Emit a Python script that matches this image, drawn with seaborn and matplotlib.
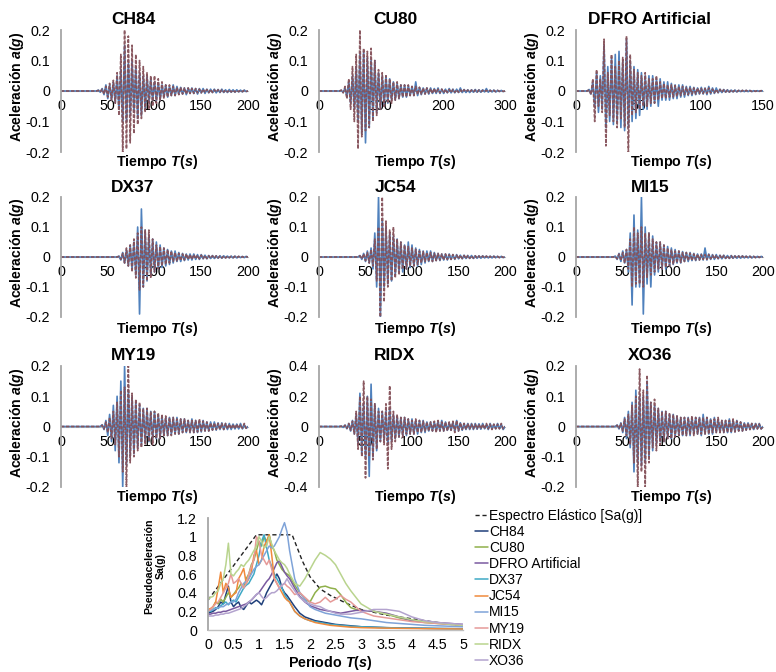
import numpy as np
import pandas as pd
import matplotlib
matplotlib.use("Agg")
import matplotlib.pyplot as plt
import seaborn as sns
from matplotlib.ticker import FuncFormatter

# ---------------- data ----------------
RECORDS = ["CH84", "CU80", "DFRO Artificial", "DX37", "JC54", "MI15", "MY19", "RIDX", "XO36"]
DURATIONS = [200, 300, 150, 200, 200, 200, 200, 200, 200]
X_TICKS = [[0, 50, 100, 150, 200], [0, 100, 200, 300], [0, 50, 100, 150],
           [0, 50, 100, 150, 200], [0, 50, 100, 150, 200], [0, 50, 100, 150, 200],
           [0, 50, 100, 150, 200], [0, 50, 100, 150, 200], [0, 50, 100, 150, 200]]
Y_LIMS = [0.2, 0.2, 0.2, 0.2, 0.2, 0.2, 0.2, 0.4, 0.2]

CH84_A = [0,0,0,0,0,0,0,0,0,0, 0,0,0,0,0,0,0,0,0,0,
          0.003,-0.004,0.008,-0.012,0.02,-0.025,0.02,-0.03,0.03,-0.04,
          0.05,-0.06,0.07,-0.1,0.15,-0.1,0.09,-0.08,0.1,-0.07,
          0.08,-0.09,0.06,-0.08,0.05,-0.06,0.05,-0.04,0.04,-0.03,
          0.03,-0.03,0.025,-0.03,0.02,-0.02,0.02,-0.02,0.015,-0.015,
          0.02,-0.015,0.015,-0.01,0.012,-0.01,0.01,-0.012,0.01,-0.008,
          0.01,-0.008,0.008,-0.01,0.008,-0.006,0.008,-0.008,0.006,-0.006,
          0.006,-0.005,0.006,-0.006,0.005,-0.005,0.006,-0.005,0.004,-0.005,
          0.005,-0.004,0.004,-0.004,0.004,-0.003,0.003,-0.003,0.003,-0.002,0]
CH84_B = [0,0,0,0,0,0,0,0,0,0, 0,0,0,0,0,0,0,0,0,0,
          0.002,-0.003,0.006,-0.01,0.015,-0.02,0.025,-0.03,0.035,-0.04,
          0.06,-0.08,0.12,-0.2,0.2,-0.19,0.18,-0.17,0.15,-0.14,
          0.12,-0.11,0.1,-0.09,0.08,-0.07,0.06,-0.06,0.05,-0.05,
          0.05,-0.04,0.04,-0.03,0.03,-0.025,0.02,-0.02,0.02,-0.015,
          0.015,-0.015,0.012,-0.012,0.012,-0.01,0.01,-0.01,0.01,-0.008,
          0.008,-0.008,0.008,-0.006,0.006,-0.006,0.006,-0.005,0.005,-0.005,
          0.005,-0.005,0.004,-0.004,0.004,-0.004,0.004,-0.003,0.003,-0.003,
          0.003,-0.003,0.003,-0.003,0.002,-0.002,0.002,-0.002,0.002,-0.001,0]

CU80_A = [0,0,0,0,0,0,0,0,0,0,
          0,0,0.002,-0.005,0.01,-0.02,0.03,-0.04,0.05,-0.06,
          0.08,-0.1,0.12,-0.14,0.13,-0.17,0.11,-0.12,0.1,-0.09,
          0.1,-0.07,0.06,-0.06,0.05,-0.05,0.05,-0.04,0.04,-0.03,
          0.03,-0.03,0.025,-0.025,0.02,-0.02,0.02,-0.02,0.018,-0.015,
          0.015,-0.015,0.03,-0.015,0.012,-0.012,0.01,-0.01,0.01,-0.01,
          0.01,-0.008,0.008,-0.008,0.01,-0.008,0.006,-0.008,0.006,-0.006,
          0.008,-0.006,0.006,-0.006,0.006,-0.005,0.01,-0.005,0.005,-0.005,
          0.004,-0.005,0.004,-0.004,0.005,-0.004,0.004,-0.004,0.004,-0.003,
          0.008,-0.004,0.003,-0.003,0.003,-0.003,0.002,-0.002,0.002,-0.002,0]
CU80_B = [0,0,0,0,0,0,0,0,0,0,
          0,0,0.003,-0.006,0.015,-0.025,0.04,-0.06,0.08,-0.1,
          0.12,-0.19,0.2,-0.15,0.14,-0.13,0.13,-0.12,0.14,-0.1,
          0.1,-0.08,0.07,-0.06,0.06,-0.05,0.05,-0.04,0.04,-0.04,
          0.03,-0.03,0.03,-0.025,0.02,-0.02,0.02,-0.02,0.02,-0.015,
          0.015,-0.015,0.015,-0.012,0.012,-0.01,0.01,-0.01,0.01,-0.008,
          0.008,-0.008,0.008,-0.006,0.006,-0.006,0.006,-0.006,0.005,-0.005,
          0.005,-0.005,0.005,-0.004,0.004,-0.004,0.004,-0.004,0.004,-0.003,
          0.003,-0.003,0.003,-0.003,0.003,-0.003,0.003,-0.002,0.002,-0.002,
          0.002,-0.002,0.002,-0.002,0.002,-0.002,0.002,-0.001,0.001,-0.001,0]

DFRO_A = [0,0,0,0,0,0,0,0.005,-0.01,0.03,
          -0.05,0.06,-0.07,0.05,-0.06,0.15,-0.12,0.08,-0.1,0.11,
          -0.11,0.12,-0.1,0.13,-0.12,0.1,-0.13,0.17,-0.12,0.1,
          -0.1,0.08,-0.09,0.07,-0.08,0.06,-0.06,0.05,-0.06,0.05,
          -0.05,0.05,-0.04,0.04,-0.05,0.04,-0.03,0.03,-0.03,0.03,
          -0.03,0.025,-0.025,0.02,-0.025,0.02,-0.02,0.02,-0.02,0.015,
          -0.015,0.015,-0.015,0.012,-0.012,0.01,-0.01,0.012,-0.01,0.01,
          -0.012,0.015,-0.01,0.01,-0.008,0.01,-0.006,0.006,-0.005,0.005,
          -0.004,0.004,-0.004,0.003,-0.003,0.003,-0.003,0.002,-0.002,0.002,
          -0.002,0.002,-0.002,0.002,-0.002,0.001,-0.001,0.001,-0.001,0.001,0]
DFRO_B = [0,0,0,0,0,0,0,0.004,-0.012,0.04,
          -0.1,0.07,-0.05,0.04,-0.07,0.17,-0.18,0.06,-0.08,0.12,
          -0.1,0.08,-0.12,0.1,-0.09,0.11,-0.12,0.18,-0.2,0.12,
          -0.08,0.07,-0.07,0.06,-0.06,0.05,-0.05,0.06,-0.05,0.04,
          -0.04,0.04,-0.04,0.05,-0.03,0.03,-0.025,0.025,-0.025,0.02,
          -0.02,0.02,-0.02,0.018,-0.018,0.015,-0.015,0.015,-0.012,0.012,
          -0.012,0.012,-0.01,0.01,-0.01,0.01,-0.008,0.008,-0.008,0.008,
          -0.008,0.01,-0.006,0.006,-0.006,0.005,-0.005,0.005,-0.004,0.004,
          -0.003,0.003,-0.003,0.003,-0.002,0.002,-0.002,0.002,-0.002,0.002,
          -0.002,0.002,-0.001,0.001,-0.001,0.001,-0.001,0.001,-0.001,0.001,0]

DX37_A = [0,0,0,0,0,0,0,0,0,0, 0,0,0,0,0,0,0,0,0,0, 0,0,0,0,0,0,0,0,0,0,
          0,0.003,-0.01,0.015,-0.02,0.025,-0.03,0.04,-0.04,0.05,
          -0.06,0.1,-0.19,0.16,-0.1,0.09,-0.08,0.07,-0.06,0.06,
          -0.05,0.05,-0.04,0.04,-0.035,0.03,-0.03,0.025,-0.025,0.02,
          -0.02,0.02,-0.015,0.015,-0.015,0.012,-0.012,0.01,-0.01,0.01,
          -0.01,0.01,-0.008,0.008,-0.008,0.008,-0.006,0.006,-0.006,0.005,
          -0.005,0.005,-0.005,0.004,-0.004,0.004,-0.004,0.004,-0.003,0.003,
          -0.003,0.003,-0.003,0.003,-0.003,0.002,-0.002,0.002,-0.002,0.002,0]
DX37_B = [0,0,0,0,0,0,0,0,0,0, 0,0,0,0,0,0,0,0,0,0, 0,0,0,0,0,0,0,0,0,0,
          0,0.002,-0.008,0.012,-0.02,0.03,-0.03,0.04,-0.05,0.06,
          -0.07,0.08,-0.11,0.1,-0.1,0.09,-0.08,0.09,-0.07,0.06,
          -0.05,0.04,-0.04,0.035,-0.03,0.03,-0.025,0.025,-0.02,0.02,
          -0.015,0.015,-0.015,0.012,-0.012,0.01,-0.01,0.01,-0.008,0.008,
          -0.008,0.008,-0.006,0.006,-0.006,0.006,-0.005,0.005,-0.005,0.004,
          -0.004,0.004,-0.004,0.004,-0.003,0.003,-0.003,0.003,-0.003,0.003,
          -0.002,0.002,-0.002,0.002,-0.002,0.002,-0.002,0.001,-0.001,0.001,0]

JC54_A = [0,0,0,0,0,0,0,0,0,0, 0,0,0,0,0,0,0,0,0,0,
          0,0,0.005,-0.008,0.012,-0.015,0.02,-0.02,0.03,-0.04,
          0.08,-0.1,0.2,-0.2,0.12,-0.1,0.1,-0.09,0.08,-0.08,
          0.07,-0.06,0.06,-0.05,0.05,-0.05,0.04,-0.04,0.05,-0.035,
          0.04,-0.03,0.03,-0.03,0.025,-0.025,0.02,-0.02,0.02,-0.015,
          0.02,-0.015,0.015,-0.012,0.012,-0.012,0.01,-0.01,0.01,-0.01,
          0.01,-0.008,0.008,-0.008,0.008,-0.006,0.006,-0.006,0.006,-0.005,
          0.005,-0.005,0.005,-0.005,0.004,-0.004,0.004,-0.004,0.004,-0.003,
          0.003,-0.003,0.003,-0.003,0.003,-0.002,0.002,-0.002,0.002,-0.002,0]
JC54_B = [0,0,0,0,0,0,0,0,0,0, 0,0,0,0,0,0,0,0,0,0,
          0,0,0.004,-0.006,0.01,-0.012,0.015,-0.02,0.025,-0.03,
          0.06,-0.08,0.1,-0.2,0.2,-0.15,0.12,-0.1,0.09,-0.08,
          0.1,-0.07,0.06,-0.06,0.05,-0.04,0.04,-0.04,0.035,-0.03,
          0.03,-0.03,0.025,-0.025,0.02,-0.02,0.018,-0.015,0.015,-0.015,
          0.015,-0.015,0.012,-0.012,0.012,-0.01,0.01,-0.01,0.01,-0.008,
          0.008,-0.008,0.008,-0.006,0.006,-0.006,0.006,-0.005,0.005,-0.005,
          0.005,-0.004,0.004,-0.004,0.004,-0.004,0.003,-0.003,0.003,-0.003,
          0.003,-0.003,0.002,-0.002,0.002,-0.002,0.002,-0.002,0.002,-0.001,0]

MI15_A = [0,0,0,0,0,0,0,0,0,0, 0,0,0,0,0,0,0,0,0,0,
          0,0.003,-0.008,0.012,-0.015,0.02,-0.02,0.025,-0.05,0.08,
          -0.16,0.14,-0.1,0.09,-0.1,0.2,-0.19,0.1,-0.09,0.08,
          -0.1,0.07,-0.06,0.05,-0.05,0.05,-0.04,0.04,-0.04,0.035,
          -0.03,0.03,-0.025,0.025,-0.02,0.02,-0.02,0.018,-0.015,0.015,
          -0.015,0.015,-0.012,0.012,-0.012,0.01,-0.01,0.01,-0.01,0.03,
          -0.01,0.01,-0.008,0.008,-0.008,0.008,-0.006,0.006,-0.006,0.006,
          -0.005,0.005,-0.005,0.005,-0.004,0.004,-0.004,0.004,-0.004,0.004,
          -0.003,0.003,-0.003,0.003,-0.003,0.002,-0.002,0.002,-0.002,0.002,0]
MI15_B = [0,0,0,0,0,0,0,0,0,0, 0,0,0,0,0,0,0,0,0,0,
          0,0.002,-0.006,0.01,-0.012,0.015,-0.02,0.025,-0.04,0.06,
          -0.1,0.1,-0.09,0.08,-0.09,0.1,-0.1,0.08,-0.07,0.08,
          -0.06,0.06,-0.05,0.05,-0.04,0.05,-0.04,0.04,-0.035,0.03,
          -0.03,0.025,-0.025,0.02,-0.02,0.02,-0.018,0.015,-0.015,0.015,
          -0.012,0.012,-0.012,0.01,-0.01,0.01,-0.01,0.008,-0.008,0.008,
          -0.008,0.008,-0.006,0.006,-0.006,0.006,-0.005,0.005,-0.005,0.005,
          -0.004,0.004,-0.004,0.004,-0.004,0.003,-0.003,0.003,-0.003,0.003,
          -0.003,0.002,-0.002,0.002,-0.002,0.002,-0.002,0.002,-0.001,0.001,0]

MY19_A = [0,0,0,0,0,0,0,0,0,0, 0,0,0,0,0,0,0,0,0,0,
          0,0,0.006,-0.01,0.02,-0.03,0.04,-0.05,0.07,-0.08,
          0.1,-0.12,0.15,-0.2,0.2,-0.13,0.12,-0.1,0.1,-0.09,
          0.08,-0.07,0.07,-0.06,0.06,-0.05,0.06,-0.05,0.05,-0.04,
          0.05,-0.04,0.04,-0.04,0.035,-0.03,0.03,-0.03,0.03,-0.025,
          0.03,-0.025,0.03,-0.025,0.025,-0.02,0.025,-0.02,0.02,-0.02,
          0.025,-0.02,0.02,-0.02,0.018,-0.018,0.02,-0.015,0.015,-0.015,
          0.015,-0.012,0.015,-0.012,0.012,-0.01,0.012,-0.01,0.01,-0.01,
          0.01,-0.01,0.008,-0.008,0.008,-0.008,0.01,-0.008,0.006,-0.006,0]
MY19_B = [0,0,0,0,0,0,0,0,0,0, 0,0,0,0,0,0,0,0,0,0,
          0,0,0.004,-0.008,0.015,-0.02,0.03,-0.04,0.05,-0.06,
          0.08,-0.1,0.12,-0.15,0.13,-0.2,0.2,-0.12,0.11,-0.1,
          0.09,-0.08,0.08,-0.07,0.06,-0.06,0.06,-0.05,0.05,-0.06,
          0.05,-0.04,0.045,-0.04,0.04,-0.03,0.035,-0.03,0.03,-0.03,
          0.03,-0.025,0.025,-0.025,0.025,-0.02,0.025,-0.02,0.02,-0.02,
          0.02,-0.02,0.02,-0.018,0.025,-0.015,0.018,-0.015,0.015,-0.015,
          0.012,-0.012,0.012,-0.01,0.01,-0.01,0.01,-0.01,0.01,-0.008,
          0.008,-0.008,0.008,-0.008,0.008,-0.006,0.006,-0.006,0.01,-0.006,0]

RIDX_A = [0,0,0,0,0,0,0,0,0,0,
          0,0,0.003,-0.006,0.01,-0.015,0.02,-0.03,0.04,-0.05,
          0.08,-0.12,0.22,-0.18,0.15,-0.2,0.2,-0.33,0.28,-0.2,
          0.15,-0.16,0.12,-0.1,0.1,-0.09,0.1,-0.12,0.12,-0.1,
          0.08,-0.08,0.07,-0.07,0.06,-0.06,0.06,-0.06,0.05,-0.05,
          0.05,-0.05,0.04,-0.05,0.04,-0.04,0.04,-0.04,0.03,-0.03,
          0.03,-0.03,0.03,-0.03,0.035,-0.03,0.04,-0.03,0.03,-0.025,
          0.025,-0.025,0.03,-0.03,0.04,-0.03,0.025,-0.025,0.02,-0.02,
          0.02,-0.02,0.02,-0.02,0.02,-0.018,0.018,-0.018,0.02,-0.015,
          0.015,-0.02,0.02,-0.015,0.015,-0.015,0.02,-0.015,0.015,-0.02,0]
RIDX_B = [0,0,0,0,0,0,0,0,0,0,
          0,0,0.002,-0.005,0.008,-0.012,0.02,-0.025,0.035,-0.05,
          0.1,-0.15,0.2,-0.2,0.3,-0.34,0.2,-0.2,0.18,-0.22,
          0.15,-0.15,0.1,-0.1,0.1,-0.12,0.15,-0.28,0.27,-0.15,
          0.1,-0.1,0.08,-0.07,0.06,-0.07,0.06,-0.05,0.05,-0.05,
          0.04,-0.05,0.05,-0.04,0.04,-0.04,0.035,-0.03,0.03,-0.03,
          0.03,-0.03,0.035,-0.04,0.04,-0.03,0.03,-0.03,0.03,-0.03,
          0.03,-0.025,0.035,-0.04,0.04,-0.03,0.025,-0.02,0.02,-0.02,
          0.02,-0.015,0.015,-0.015,0.015,-0.015,0.015,-0.015,0.015,-0.015,
          0.02,-0.015,0.015,-0.02,0.015,-0.015,0.015,-0.015,0.02,-0.015,0]

XO36_A = [0,0,0,0,0,0,0,0,0,0, 0,0,0,0,0,0,0,0,0,0,
          0,0,0.005,-0.008,0.012,-0.02,0.03,-0.04,0.05,-0.07,
          0.08,-0.15,0.12,-0.12,0.1,-0.13,0.1,-0.12,0.15,-0.1,
          0.08,-0.08,0.07,-0.06,0.06,-0.05,0.05,-0.05,0.05,-0.04,
          0.04,-0.04,0.04,-0.035,0.035,-0.03,0.03,-0.03,0.03,-0.03,
          0.03,-0.03,0.03,-0.025,0.03,-0.025,0.03,-0.03,0.04,-0.025,
          0.03,-0.025,0.025,-0.025,0.03,-0.02,0.025,-0.02,0.02,-0.02,
          0.02,-0.02,0.025,-0.02,0.02,-0.018,0.02,-0.015,0.015,-0.015,
          0.012,-0.012,0.012,-0.01,0.01,-0.01,0.01,-0.008,0.01,-0.008,0]
XO36_B = [0,0,0,0,0,0,0,0,0,0, 0,0,0,0,0,0,0,0,0,0,
          0,0,0.004,-0.006,0.01,-0.015,0.025,-0.03,0.04,-0.06,
          0.07,-0.12,0.1,-0.2,0.19,-0.15,0.12,-0.2,0.17,-0.12,
          0.08,-0.07,0.09,-0.08,0.06,-0.06,0.05,-0.05,0.05,-0.04,
          0.045,-0.04,0.04,-0.035,0.035,-0.03,0.03,-0.03,0.03,-0.03,
          0.03,-0.025,0.035,-0.03,0.03,-0.025,0.03,-0.025,0.03,-0.025,
          0.03,-0.025,0.025,-0.02,0.025,-0.02,0.03,-0.02,0.02,-0.02,
          0.02,-0.02,0.02,-0.02,0.025,-0.018,0.018,-0.015,0.015,-0.015,
          0.012,-0.012,0.012,-0.01,0.01,-0.01,0.01,-0.008,0.008,-0.008,0]

SERIES_A = [CH84_A, CU80_A, DFRO_A, DX37_A, JC54_A, MI15_A, MY19_A, RIDX_A, XO36_A]
SERIES_B = [CH84_B, CU80_B, DFRO_B, DX37_B, JC54_B, MI15_B, MY19_B, RIDX_B, XO36_B]

# response spectra
PERIODS = [0, 0.05, 0.1, 0.15, 0.2, 0.25, 0.3, 0.35, 0.4, 0.45,
           0.5, 0.55, 0.6, 0.65, 0.7, 0.75, 0.8, 0.85, 0.9, 0.95,
           1.0, 1.05, 1.1, 1.15, 1.2, 1.25, 1.3, 1.35, 1.4, 1.45,
           1.5, 1.55, 1.6, 1.7, 1.8, 1.9, 2.0, 2.1, 2.2, 2.3,
           2.4, 2.5, 2.6, 2.7, 2.8, 2.9, 3.0, 3.25, 3.5, 3.75,
           4.0, 4.25, 4.5, 4.75, 5.0]
SA_CH84 = [0.18,0.19,0.2,0.22,0.25,0.3,0.28,0.38,0.47,0.3,
           0.25,0.28,0.3,0.24,0.22,0.26,0.3,0.28,0.3,0.32,
           0.3,0.27,0.33,0.4,0.45,0.5,0.55,0.6,0.55,0.45,
           0.4,0.37,0.33,0.25,0.18,0.14,0.12,0.1,0.09,0.08,
           0.07,0.06,0.055,0.05,0.045,0.04,0.035,0.03,0.025,0.022,
           0.02,0.018,0.016,0.015,0.014]
SA_CU80 = [0.2,0.22,0.25,0.3,0.28,0.33,0.3,0.35,0.4,0.35,
           0.38,0.42,0.45,0.5,0.45,0.55,0.6,0.7,0.75,0.85,
           0.95,0.9,1.0,0.95,1.02,0.9,0.85,0.75,0.7,0.65,
           0.62,0.6,0.58,0.48,0.4,0.33,0.3,0.4,0.46,0.47,
           0.45,0.44,0.38,0.3,0.24,0.22,0.21,0.2,0.17,0.13,
           0.1,0.08,0.07,0.06,0.05]
SA_DFRO = [0.17,0.17,0.18,0.18,0.19,0.19,0.2,0.2,0.21,0.22,
           0.23,0.24,0.25,0.26,0.27,0.28,0.3,0.32,0.35,0.38,
           0.4,0.44,0.48,0.52,0.55,0.6,0.66,0.72,0.74,0.68,
           0.62,0.58,0.55,0.45,0.36,0.3,0.26,0.24,0.22,0.21,
           0.2,0.19,0.18,0.19,0.2,0.21,0.21,0.2,0.18,0.14,
           0.1,0.09,0.08,0.07,0.06]
SA_DX37 = [0.2,0.2,0.22,0.24,0.23,0.26,0.28,0.3,0.27,0.3,
           0.32,0.3,0.35,0.4,0.45,0.48,0.5,0.55,0.6,0.7,
           0.8,0.95,1.02,0.88,0.75,0.68,0.6,0.55,0.5,0.45,
           0.38,0.34,0.3,0.2,0.15,0.12,0.1,0.09,0.08,0.07,
           0.06,0.055,0.05,0.045,0.04,0.038,0.035,0.03,0.025,0.022,
           0.02,0.018,0.016,0.014,0.012]
SA_JC54 = [0.22,0.23,0.25,0.3,0.45,0.62,0.4,0.5,0.45,0.35,
           0.38,0.4,0.55,0.6,0.66,0.5,0.55,0.62,0.8,0.85,
           0.7,0.75,0.9,0.95,1.02,0.8,0.55,0.5,0.45,0.4,
           0.35,0.32,0.3,0.2,0.15,0.12,0.1,0.08,0.07,0.06,
           0.05,0.045,0.04,0.035,0.03,0.028,0.025,0.022,0.02,0.018,
           0.016,0.014,0.013,0.012,0.01]
SA_MI15 = [0.2,0.21,0.22,0.23,0.24,0.25,0.25,0.27,0.28,0.3,
           0.3,0.33,0.4,0.45,0.5,0.52,0.55,0.6,0.65,0.68,
           0.7,0.75,0.8,0.85,0.9,0.88,0.9,0.95,1.0,1.08,
           1.15,1.05,0.85,0.55,0.4,0.33,0.25,0.22,0.2,0.18,
           0.17,0.16,0.15,0.14,0.13,0.125,0.12,0.1,0.08,0.07,
           0.06,0.05,0.045,0.04,0.035]
SA_MY19 = [0.2,0.22,0.25,0.28,0.3,0.35,0.4,0.45,0.5,0.6,
           0.5,0.52,0.55,0.5,0.45,0.5,0.6,0.68,0.75,1.0,
           0.95,0.8,0.75,0.7,0.75,0.65,0.55,0.5,0.45,0.48,
           0.5,0.47,0.45,0.38,0.4,0.35,0.3,0.28,0.3,0.35,
           0.3,0.33,0.37,0.33,0.3,0.25,0.2,0.15,0.13,0.11,
           0.09,0.08,0.07,0.06,0.05]
SA_RIDX = [0.33,0.35,0.36,0.4,0.42,0.5,0.55,0.7,0.93,0.6,
           0.58,0.62,0.65,0.7,0.68,0.72,0.75,0.8,0.85,0.9,
           1.0,0.95,0.88,0.9,1.0,0.92,0.85,0.8,0.75,0.72,
           0.7,0.66,0.6,0.5,0.47,0.55,0.65,0.75,0.83,0.8,
           0.76,0.7,0.6,0.5,0.42,0.35,0.28,0.2,0.17,0.14,
           0.11,0.09,0.08,0.06,0.05]
SA_XO36 = [0.15,0.15,0.15,0.16,0.16,0.17,0.17,0.18,0.18,0.19,
           0.2,0.21,0.22,0.23,0.25,0.27,0.3,0.32,0.35,0.38,
           0.4,0.36,0.33,0.35,0.38,0.4,0.4,0.42,0.45,0.48,
           0.5,0.55,0.5,0.42,0.35,0.3,0.28,0.26,0.25,0.22,
           0.2,0.18,0.17,0.17,0.17,0.18,0.19,0.22,0.22,0.2,
           0.14,0.1,0.08,0.07,0.06]
SPECTRA = [SA_CH84, SA_CU80, SA_DFRO, SA_DX37, SA_JC54, SA_MI15, SA_MY19, SA_RIDX, SA_XO36]
SPEC_COLORS = ["#1F3F7A", "#8FB04A", "#7A5AA0", "#3FA9C5", "#F08A3C",
               "#7FA3D8", "#E69A98", "#B9D48E", "#B3A3CE"]

ELAS_T = [0, 0.95, 1.65, 1.75, 1.85, 2.0, 2.2, 2.4, 2.7, 3.0, 3.5, 4.0, 4.5, 5.0]
ELAS_SA = [0.32, 1.02, 1.02, 0.88, 0.74, 0.57, 0.44, 0.37, 0.29, 0.22, 0.16, 0.12, 0.08, 0.045]
ELAS_LABEL = "Espectro Elástico [Sa(g)]"

# ---------------- style ----------------
sns.set_theme(style="white")
plt.rcParams["font.family"] = ["Liberation Sans", "DejaVu Sans"]
plt.rcParams["axes.unicode_minus"] = False
plt.rcParams["text.color"] = "black"
plt.rcParams["axes.labelcolor"] = "black"
plt.rcParams["xtick.color"] = "black"
plt.rcParams["ytick.color"] = "black"
plt.rcParams["mathtext.fontset"] = "custom"
plt.rcParams["mathtext.it"] = "Liberation Sans:italic:bold"
plt.rcParams["mathtext.rm"] = "Liberation Sans:bold"
plt.rcParams["mathtext.bf"] = "Liberation Sans:bold"

W, H = 776, 672
fig = plt.figure(figsize=(W / 100, H / 100), dpi=100)
fig.patch.set_facecolor("white")

BLUE = "#4F81BD"
BROWN = "#855159"
AXIS_GRAY = "#A6A6A6"

COL_L = [61, 319, 576]
COL_R = [248, 505, 763]
ROW_T = [30, 197, 366]
ROW_B = [152, 317, 487]
TITLE_X = [133, 395, 650]
TITLE_Y = [20, 187, 356]
XLAB_X = [157, 415, 671]
XLAB_Y = [162, 329, 497]
YLAB_X = [17, 275, 532]

fmt = FuncFormatter(lambda v, _: f"{v:g}")

for k, name in enumerate(RECORDS):
    r, c = divmod(k, 3)
    left, right, top, bot = COL_L[c], COL_R[c], ROW_T[r], ROW_B[r]
    ax = fig.add_axes([left / W, 1 - bot / H, (right - left) / W, (bot - top) / H])
    dur = DURATIONS[k]
    a = SERIES_A[k]
    b = SERIES_B[k]
    ta = np.linspace(0, dur, len(a))
    tb = np.linspace(0, dur, len(b))
    dfa = pd.DataFrame({"t": ta, "acc": a})
    dfb = pd.DataFrame({"t": tb, "acc": b})
    ax.fill_between(ta, a, 0, color=BLUE, alpha=0.6, lw=0)
    ax.fill_between(tb, b, 0, color=BROWN, alpha=0.55, lw=0)
    sns.lineplot(data=dfa, x="t", y="acc", ax=ax, color=BLUE, lw=1.2,
                 estimator=None, sort=False)
    sns.lineplot(data=dfb, x="t", y="acc", ax=ax, color=BROWN, lw=1.2,
                 estimator=None, sort=False, alpha=0.95)
    ax.lines[-1].set_dashes([2, 1])
    ylim = Y_LIMS[k]
    ax.set_xlim(0, dur)
    ax.set_ylim(-ylim, ylim)
    ax.set_xticks(X_TICKS[k])
    step = ylim / 2
    ax.set_yticks([-ylim, -step, 0, step, ylim])
    ax.yaxis.set_major_formatter(fmt)
    ax.xaxis.set_major_formatter(fmt)
    for s in ["top", "right"]:
        ax.spines[s].set_visible(False)
    ax.spines["left"].set_color(AXIS_GRAY)
    ax.spines["left"].set_linewidth(1.3)
    ax.spines["bottom"].set_position(("data", 0))
    ax.spines["bottom"].set_color("#BFBFBF")
    ax.spines["bottom"].set_linewidth(0.8)
    ax.spines["bottom"].set_zorder(0.5)
    ax.tick_params(axis="y", length=0, pad=8, labelsize=10.3, colors="black")
    ax.tick_params(axis="x", length=0, pad=6, labelsize=10.3, colors="black")
    ax.set_xlabel("")
    ax.set_ylabel("")
    ax.patch.set_alpha(0)
    fig.text(TITLE_X[c] / W, 1 - TITLE_Y[r] / H, name, ha="center", va="center",
             fontsize=12.5, fontweight="bold")
    fig.text(XLAB_X[c] / W, 1 - XLAB_Y[r] / H, r"Tiempo $\mathit{T(s)}$",
             ha="center", va="center", fontsize=10.3, fontweight="bold")
    fig.text(YLAB_X[c] / W, 1 - ((top + bot) / 2 - 4) / H, r"Aceleración $\mathit{a(g)}$",
             ha="center", va="center", rotation=90, fontsize=10.1, fontweight="bold")

# ---------------- spectra ----------------
sl, sr, st, sb = 208, 463, 518, 630
ax = fig.add_axes([sl / W, 1 - sb / H, (sr - sl) / W, (sb - st) / H])
sns.lineplot(x=ELAS_T, y=ELAS_SA, ax=ax, color="#222222", lw=1.0, label=ELAS_LABEL)
ax.lines[-1].set_dashes([3, 2])
for name, vals, col in zip(RECORDS, SPECTRA, SPEC_COLORS):
    sns.lineplot(x=PERIODS, y=vals, ax=ax, color=col, lw=1.1, label=name)
handles, labels = ax.get_legend_handles_labels()
ax.get_legend().remove()
ax.set_xlim(0, 5)
ax.set_ylim(0, 1.2)
ax.set_xticks([0, 0.5, 1, 1.5, 2, 2.5, 3, 3.5, 4, 4.5, 5])
ax.set_yticks([0, 0.2, 0.4, 0.6, 0.8, 1, 1.2])
ax.xaxis.set_major_formatter(fmt)
ax.yaxis.set_major_formatter(fmt)
for s in ["top", "right"]:
    ax.spines[s].set_visible(False)
ax.spines["left"].set_color(AXIS_GRAY)
ax.spines["left"].set_linewidth(1.3)
ax.spines["bottom"].set_color("#BFBFBF")
ax.spines["bottom"].set_linewidth(1.0)
ax.tick_params(axis="y", length=0, pad=8, labelsize=10.3, colors="black")
ax.tick_params(axis="x", length=0, pad=6, labelsize=10.3, colors="black")
ax.set_xlabel("")
ax.set_ylabel("")
ax.patch.set_alpha(0)
fig.text(330 / W, 1 - 663 / H, r"Periodo $\mathit{T(s)}$", ha="center", va="center",
         fontsize=10.3, fontweight="bold")
fig.text(155 / W, 1 - 566 / H, "Pseudoaceleración\nSa(g)", ha="center", va="center",
         rotation=90, fontsize=7.6, fontweight="bold", multialignment="center",
         linespacing=1.25)

fig.legend(handles, labels, loc="upper left", bbox_to_anchor=(475 / W, 1 - 509 / H),
           frameon=False, fontsize=10, handlelength=0.9, handletextpad=0.1,
           labelspacing=0.15, borderpad=0, borderaxespad=0)

fig.savefig("out.png", dpi=100, facecolor="white")
